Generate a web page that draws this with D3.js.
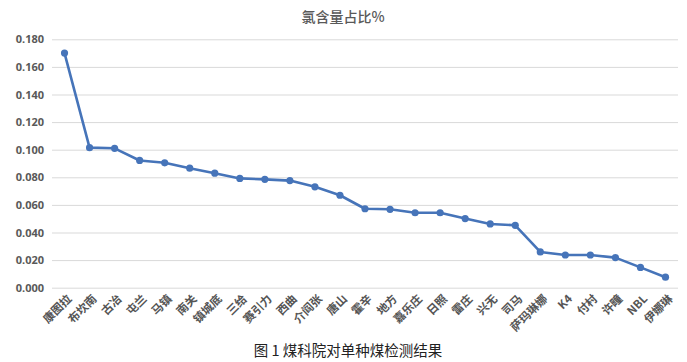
<!DOCTYPE html>
<html><head><meta charset="utf-8">
<script src="https://cdn.jsdelivr.net/npm/d3@7"></script>
<style>body{margin:0;background:#fff}svg{display:block}</style>
</head><body>
<svg id="c" width="687" height="362"></svg>
<script>
const categories = ["康图拉","布坎南","古冶","屯兰","马镇","南关","镇城底","三给","赛引力","西曲","介阎张","唐山","霍辛","地方","嘉乐庄","日照","雷庄","兴无","司马","萨玛琳娜","K4","付村","许疃","NBL","伊娜琳"];
const values = [0.170,0.1015,0.101,0.0922,0.0905,0.0866,0.083,0.0792,0.0785,0.0776,0.0731,0.067,0.0572,0.0568,0.0543,0.0543,0.0501,0.0462,0.0452,0.0259,0.0237,0.0237,0.0218,0.0147,0.0076];
const yTicks = [0,0.02,0.04,0.06,0.08,0.10,0.12,0.14,0.16,0.18];
const title = "氯含量占比%";
const caption = "图 1 煤科院对单种煤检测结果";

const svg = d3.select("#c");
const m = {l:52, r:678, t:39.3, b:287.7};
const x = d3.scaleBand().domain(categories).range([m.l, m.r]);
const y = d3.scaleLinear().domain([0,0.18]).range([m.b, m.t]);
const cx = d => x(d) + x.bandwidth()/2;

svg.append("text").attr("x",343).attr("y",22).attr("text-anchor","middle")
  .attr("font-family","'Noto Sans CJK SC'").attr("font-size",14).attr("font-weight",500)
  .attr("fill","#595959").text(title);

const ya = svg.append("g").attr("transform",`translate(${m.l},0)`)
  .call(d3.axisLeft(y).tickValues(yTicks).tickFormat(d3.format(".3f")).tickSize(-(m.r-m.l)).tickPadding(8));
ya.select(".domain").remove();
ya.selectAll(".tick line").attr("stroke","#d9d9d9").attr("stroke-width",1);
ya.selectAll(".tick text").attr("font-family","'Open Sans', 'DejaVu Sans', sans-serif")
  .attr("font-size",11).attr("font-weight",700).attr("fill","#595959");

const xa = svg.append("g").attr("transform",`translate(0,${m.b})`)
  .call(d3.axisBottom(x).tickSize(0).tickPadding(0));
xa.select(".domain").remove();
xa.selectAll(".tick text").attr("text-anchor","end")
  .attr("transform","translate(5,9) rotate(-45)").attr("dy","0.35em")
  .attr("font-family","'Noto Sans CJK SC'").attr("font-size",11.5).attr("font-weight",700)
  .attr("fill","#555");

const line = d3.line().x((d,i)=>cx(categories[i])).y(d=>y(d));
svg.append("path").datum(values).attr("d",line).attr("fill","none")
  .attr("stroke","#4674b9").attr("stroke-width",2.6).attr("stroke-linejoin","round");
svg.selectAll("circle.pt").data(values).join("circle").attr("class","pt")
  .attr("cx",(d,i)=>cx(categories[i])).attr("cy",d=>y(d)).attr("r",3.6).attr("fill","#4674b9");

svg.append("text").attr("x",348).attr("y",356).attr("text-anchor","middle")
  .attr("font-family","'Noto Sans CJK SC'").attr("font-size",14.5).attr("fill","#222").text(caption);
</script>
</body></html>
